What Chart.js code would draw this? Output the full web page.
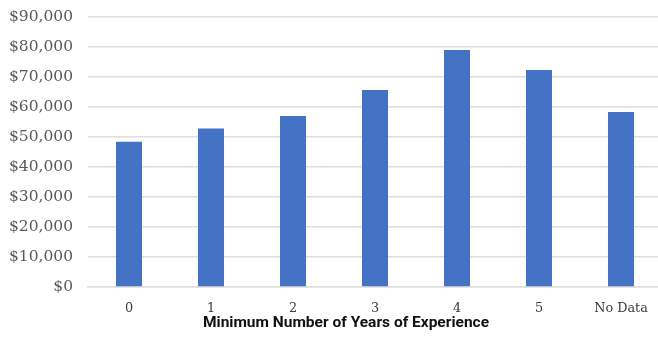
<!DOCTYPE html>
<html>
<head>
<meta charset="utf-8">
<script src="https://cdn.jsdelivr.net/npm/chart.js@4.4.0/dist/chart.umd.min.js"></script>
<style>
  html, body { margin: 0; padding: 0; background: #fff; overflow: hidden; }
  #wrap { width: 662px; height: 341px; }
</style>
</head>
<body>
<div id="wrap"><canvas id="salaryChart"></canvas></div>
<script>
// Minimum years of experience vs. average salary
const experience = ["0", "1", "2", "3", "4", "5", "No Data"];
const salaries = [48400, 52800, 57000, 65700, 79000, 72300, 58300];
const yMin = 0;
const yMax = 90000;
const yStep = 10000;
const xTitle = 'Minimum Number of Years of Experience';

const gridColor = "#dedede";
const serif = "'DejaVu Serif', serif";

// axis title sits a little left of the plot centre, like the Excel original
const xTitlePlugin = {
    id: 'xTitle',
    afterDraw(chart) {
        const { ctx, chartArea } = chart;
        ctx.save();
        ctx.font = "bold 15.5px Roboto, 'Liberation Sans', sans-serif";
        ctx.fillStyle = '#111';
        ctx.textAlign = 'center';
        ctx.textBaseline = 'middle';
        ctx.fillText(xTitle, (chartArea.left + chartArea.right) / 2 - 29, chart.height - 18);
        ctx.restore();
    }
};

const ctx = document.getElementById("salaryChart").getContext("2d");

const chart = new Chart(ctx, {
    type: 'bar',
    data: {
        labels: experience,
        datasets: [{
            data: salaries,
            backgroundColor: '#4472C4',
            categoryPercentage: 1,
            barPercentage: 0.317
        }]
    },
    options: {
        responsive: true,
        maintainAspectRatio: false,
        animation: false,
        events: [],
        layout: { padding: { top: 17, left: 0, right: 0, bottom: 0 } },
        plugins: {
            legend: { display: false },
            tooltip: { enabled: false }
        },
        scales: {
            x: {
                grid: { display: false, drawTicks: false },
                border: { color: gridColor, width: 1.5 },
                ticks: {
                    color: '#3a3a3a',
                    padding: 14,
                    font: { family: serif, size: 12.8 }
                },
                afterFit(scale) {
                    scale.height = 54;
                    scale.paddingLeft = 0;
                    scale.paddingRight = 0;
                }
            },
            y: {
                min: yMin,
                max: yMax,
                grid: { color: gridColor, lineWidth: 1.5, drawTicks: false },
                border: { display: false },
                ticks: {
                    stepSize: yStep,
                    padding: 15,
                    color: '#595959',
                    font: { family: serif, size: 15.5 },
                    callback: (v) => '$' + v.toLocaleString('en-US')
                },
                afterFit(scale) {
                    scale.width = 88;
                    scale.paddingTop = 0;
                    scale.paddingBottom = 0;
                }
            }
        }
    },
    plugins: [xTitlePlugin]
});
</script>
</body>
</html>
